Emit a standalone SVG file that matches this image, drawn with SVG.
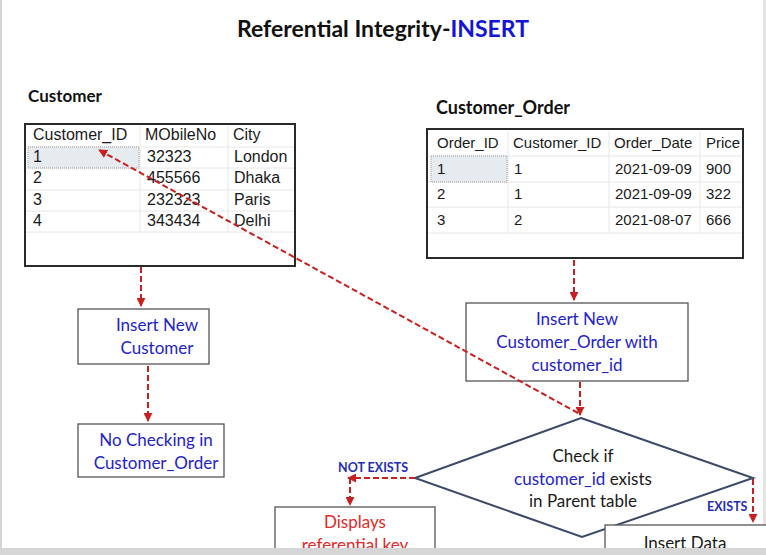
<svg xmlns="http://www.w3.org/2000/svg" width="766" height="555" viewBox="0 0 766 555">
<defs>
<style>
.tbl{font-family:"Liberation Sans",Arial,sans-serif;font-size:16px;fill:#1a1a1a}
.tbl2{font-family:"Liberation Sans",Arial,sans-serif;font-size:15px;fill:#1a1a1a}
.hdr{font-family:Lato,"Open Sans",sans-serif;font-weight:bold;font-size:17px;fill:#111}
.fl{font-family:Lato,"Open Sans",sans-serif;font-size:17px;text-anchor:middle}
.blue{fill:#2323c8}
.dark{fill:#1a1a1a}
.red{fill:#e02a2a}
.lbl{font-family:Lato,"Open Sans",sans-serif;font-weight:bold;font-size:12.5px;fill:#1f2fb0}
.box{fill:#fff;stroke:#555;stroke-width:1.3}
.tframe{fill:#fff;stroke:#2a2a2a;stroke-width:2}
.grid{stroke:#e6e6e6;stroke-width:1}
.sel{fill:#e6ebf0;stroke:#9a9a9a;stroke-width:1;stroke-dasharray:1,1}
.conn{fill:none;stroke:#c8201e;stroke-width:2;stroke-dasharray:6,3}
</style>
<marker id="ah" viewBox="0 0 10 10" refX="9" refY="5" markerWidth="4.5" markerHeight="4.5" orient="auto">
<path d="M0,0 L10,5 L0,10 z" fill="#c8201e"/>
</marker>
</defs>
<rect x="0" y="0" width="766" height="555" fill="#fff"/>
<rect x="0" y="0" width="2" height="555" fill="#d4d4d4"/>
<rect x="763" y="0" width="3" height="555" fill="#e4e4e4"/>

<g id="title">
<text x="383" y="37" text-anchor="middle" style="font-family:Lato,'Open Sans',sans-serif;font-weight:bold;font-size:23px;fill:#111">Referential Integrity-<tspan style="fill:#1414d4">INSERT</tspan></text>
</g>

<g id="customer-table">
<text class="hdr" x="28" y="102">Customer</text>
<rect class="tframe" x="25" y="124" width="270" height="142"/>
<line class="grid" x1="140" y1="126" x2="140" y2="232"/>
<line class="grid" x1="228" y1="126" x2="228" y2="232"/>
<line class="grid" x1="26" y1="147" x2="294" y2="147"/>
<line class="grid" x1="26" y1="168" x2="294" y2="168"/>
<line class="grid" x1="26" y1="190" x2="294" y2="190"/>
<line class="grid" x1="26" y1="211" x2="294" y2="211"/>
<line class="grid" x1="26" y1="232" x2="294" y2="232"/>
<rect class="sel" x="28" y="147" width="111" height="21"/>
<g class="tbl">
<text x="33" y="140">Customer_ID</text><text x="145" y="140">MObileNo</text><text x="233" y="140">City</text>
<text x="33" y="162">1</text><text x="147" y="162">32323</text><text x="234" y="162">London</text>
<text x="33" y="183">2</text><text x="147" y="183">455566</text><text x="234" y="183">Dhaka</text>
<text x="33" y="205">3</text><text x="147" y="205">232323</text><text x="234" y="205">Paris</text>
<text x="33" y="226">4</text><text x="147" y="226">343434</text><text x="234" y="226">Delhi</text>
</g>
</g>

<g id="customer-order-table">
<text class="hdr" x="436" y="114" style="font-size:18px">Customer_Order</text>
<rect class="tframe" x="427" y="129" width="316" height="129"/>
<line class="grid" x1="508" y1="131" x2="508" y2="233"/>
<line class="grid" x1="609" y1="131" x2="609" y2="233"/>
<line class="grid" x1="700" y1="131" x2="700" y2="233"/>
<line class="grid" x1="428" y1="156" x2="742" y2="156"/>
<line class="grid" x1="428" y1="182" x2="742" y2="182"/>
<line class="grid" x1="428" y1="207" x2="742" y2="207"/>
<line class="grid" x1="428" y1="233" x2="742" y2="233"/>
<rect class="sel" x="431" y="156" width="76" height="26"/>
<g class="tbl2">
<text x="437" y="148">Order_ID</text><text x="513" y="148">Customer_ID</text><text x="614" y="148">Order_Date</text><text x="706" y="148">Price</text>
<text x="437" y="174">1</text><text x="514" y="174">1</text><text x="615" y="174">2021-09-09</text><text x="706" y="174">900</text>
<text x="437" y="199">2</text><text x="514" y="199">1</text><text x="615" y="199">2021-09-09</text><text x="706" y="199">322</text>
<text x="437" y="225">3</text><text x="514" y="225">2</text><text x="615" y="225">2021-08-07</text><text x="706" y="225">666</text>
</g>
</g>

<g id="insert-new-customer">
<rect class="box" x="78" y="309" width="131" height="55"/>
<text class="fl blue" x="157" y="331">Insert New</text>
<text class="fl blue" x="157" y="354">Customer</text>
</g>

<g id="no-checking">
<rect class="box" x="78" y="424" width="146" height="53"/>
<text class="fl blue" x="156" y="446">No Checking in</text>
<text class="fl blue" x="156" y="469">Customer_Order</text>
</g>

<g id="insert-new-order">
<rect class="box" x="466" y="303" width="222" height="78"/>
<text class="fl blue" x="577" y="325">Insert New</text>
<text class="fl blue" x="577" y="348">Customer_Order with</text>
<text class="fl blue" x="577" y="371">customer_id</text>
</g>

<g id="check-decision">
<polygon points="581,418 753,478 582,537 415,478" fill="#fff" stroke="#3b4a68" stroke-width="2"/>
<text class="fl dark" x="583" y="462">Check if</text>
<text class="fl dark" x="583" y="485"><tspan class="blue">customer_id</tspan> exists</text>
<text class="fl dark" x="583" y="507">in Parent table</text>
</g>

<g id="displays-error">
<rect class="box" x="275" y="507" width="160" height="60"/>
<text class="fl red" x="355" y="528">Displays</text>
<text class="fl red" x="355" y="551">referential key</text>
</g>

<g id="insert-data">
<rect class="box" x="605" y="525" width="170" height="40"/>
<text class="fl dark" x="685" y="549">Insert Data</text>
</g>

<g id="connectors">
<path class="conn" d="M141,267 V306" marker-end="url(#ah)"/>
<path class="conn" d="M148,366 V421" marker-end="url(#ah)"/>
<path class="conn" d="M574,260 V300" marker-end="url(#ah)"/>
<path class="conn" d="M580,382 V415" marker-end="url(#ah)"/>
<path class="conn" d="M578,413 L99,150" marker-end="url(#ah)"/>
<path class="conn" d="M415,478 H348" marker-end="url(#ah)"/>
<path class="conn" d="M350,478 V505" marker-end="url(#ah)"/>
<path class="conn" d="M753,479 V522" marker-end="url(#ah)"/>
<text class="lbl" x="338" y="472">NOT EXISTS</text>
<text class="lbl" x="707" y="511">EXISTS</text>
</g>

<rect x="0" y="548" width="766" height="7" fill="#d6d6d6"/>
</svg>
